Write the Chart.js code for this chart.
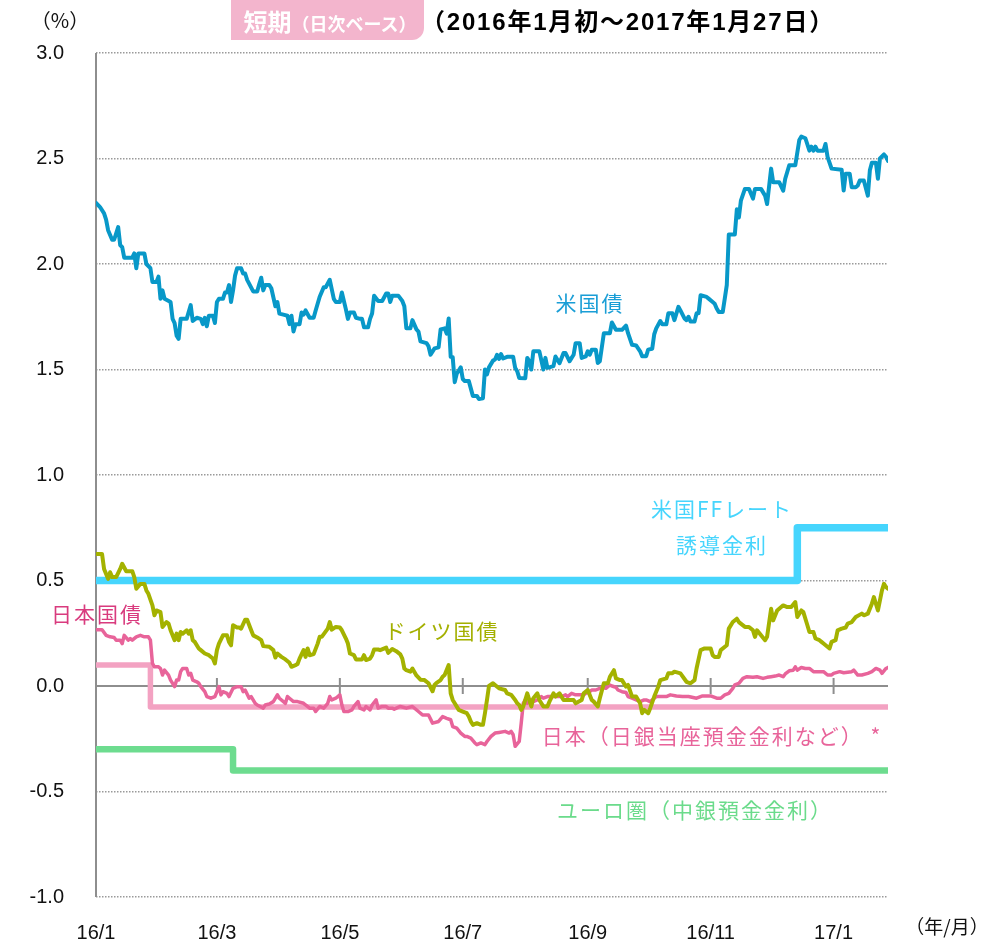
<!DOCTYPE html>
<html><head><meta charset="utf-8">
<script src="https://cdn.jsdelivr.net/npm/chart.js@4.4.0/dist/chart.umd.min.js"></script>
<style>
html,body{margin:0;padding:0;background:#fff;}
#wrap{position:relative;width:1002px;height:942px;overflow:hidden;background:#fff;}
#c{position:absolute;left:0;top:0;}
.t{position:absolute;white-space:nowrap;line-height:1;transform:translate(-50%,-50%);font-family:"Noto Sans CJK JP","Noto Sans",sans-serif;}
.lab{font-size:21px;letter-spacing:2px;}
#box{position:absolute;left:231px;top:0;width:193px;height:40px;background:#f3b5cd;border-radius:0 0 12px 0;}
</style></head>
<body>
<div id="wrap">
<canvas id="c" width="1002" height="942"></canvas>
<div id="box"></div>
<div class="t" style="left:330px;top:21px;color:#fff;font-weight:bold;font-size:24px;">短期<span style="font-size:18px;">（日次ベース）</span></div>
<div class="t" style="left:628px;top:22px;color:#000;font-weight:bold;font-size:24px;letter-spacing:1.8px;font-family:'Liberation Sans Narrow','Liberation Sans','Noto Sans CJK JP',sans-serif;">（2016年1月初～2017年1月27日）</div>
<div class="t" style="left:60px;top:20px;color:#111;font-size:20px;">（%）</div>
<div class="t lab" style="left:590px;top:302px;color:#1a9ed6;">米国債</div>
<div class="t lab" style="left:722px;top:508px;color:#46d5fd;">米国FFレート</div>
<div class="t lab" style="left:722px;top:544px;color:#46d5fd;">誘導金利</div>
<div class="t lab" style="left:97px;top:613px;color:#d93b7e;">日本国債</div>
<div class="t lab" style="left:442px;top:630px;color:#a4b000;">ドイツ国債</div>
<div class="t lab" style="left:712px;top:735px;color:#e8649a;">日本（日銀当座預金金利など） *</div>
<div class="t lab" style="left:695px;top:809px;color:#6bdb8b;">ユーロ圏（中銀預金金利）</div>
<div class="t" style="left:947px;top:925px;color:#111;font-size:19px;">（年/月）</div>
</div>
<script>
// x = days since 2016-01-01
const tickDays = [0, 60, 121, 182, 244, 305, 366];
const tickLabels = ['16/1', '16/3', '16/5', '16/7', '16/9', '16/11', '17/1'];

const usDays = [
 0,2,4,5,6,8,9,11,12,13,
 14,18,19,20,21,24,25,27,28,30,
 31,32,33,34,37,38,39,40,41,42,
 45,47,48,50,52,53,54,55,56,58,
 59,60,61,63,64,65,66,67,68,69,
 70,72,73,74,75,78,80,81,82,83,
 84,86,87,89,90,91,93,95,96,97,
 98,99,101,102,103,104,106,108,109,111,
 113,114,116,118,119,121,122,124,125,126,
 128,129,131,132,133,135,136,137,138,140,
 142,144,145,146,147,150,152,153,154,156,
 157,159,160,161,164,165,166,168,170,171,
 173,174,175,176,177,178,179,181,182,183,
 185,187,189,190,192,193,194,195,197,198,
 199,200,201,202,204,207,208,209,210,213,
 214,215,216,217,220,222,223,224,227,228,
 230,232,233,235,236,237,238,240,241,243,
 244,245,246,248,249,250,252,255,256,258,
 261,263,264,266,268,270,271,273,274,276,
 277,278,280,281,283,284,286,287,289,290,
 292,293,294,295,297,298,299,300,303,304,
 306,307,308,309,311,312,313,314,317,318,
 319,320,322,324,326,327,330,332,333,335,
 336,338,339,341,342,344,347,349,350,352,
 354,355,356,357,358,361,362,363,365,370,
 371,372,374,375,377,378,379,381,383,384,
 385,387,388,389,391,392,393];
const usYield = [
 2.29,2.27,2.24,2.21,2.16,2.115,2.115,2.175,2.09,2.08,
 2.03,2.03,2.05,1.98,2.05,2.05,2.0,1.98,1.915,1.915,
 1.94,1.835,1.875,1.835,1.82,1.74,1.72,1.66,1.645,1.74,
 1.74,1.805,1.73,1.745,1.74,1.715,1.745,1.705,1.755,1.755,
 1.72,1.82,1.835,1.835,1.865,1.865,1.9,1.82,1.875,1.945,
 1.98,1.98,1.955,1.955,1.925,1.87,1.87,1.905,1.935,1.875,
 1.9,1.9,1.885,1.8,1.82,1.765,1.76,1.755,1.715,1.755,
 1.68,1.715,1.715,1.77,1.76,1.78,1.745,1.745,1.78,1.845,
 1.89,1.89,1.925,1.835,1.82,1.82,1.865,1.785,1.74,1.77,
 1.77,1.745,1.74,1.74,1.7,1.7,1.74,1.765,1.85,1.825,
 1.825,1.86,1.86,1.82,1.85,1.85,1.825,1.8,1.695,1.695,
 1.734,1.69,1.68,1.633,1.625,1.61,1.57,1.6,1.605,1.69,
 1.695,1.67,1.742,1.56,1.558,1.44,1.48,1.51,1.455,1.445,
 1.445,1.375,1.375,1.36,1.364,1.5,1.477,1.51,1.542,1.547,
 1.57,1.55,1.573,1.552,1.56,1.56,1.508,1.492,1.46,1.458,
 1.555,1.539,1.5,1.586,1.586,1.5,1.555,1.508,1.516,1.562,
 1.53,1.578,1.578,1.539,1.555,1.57,1.625,1.625,1.555,1.562,
 1.586,1.57,1.594,1.594,1.531,1.539,1.672,1.672,1.723,1.688,
 1.688,1.708,1.672,1.617,1.614,1.586,1.563,1.563,1.594,1.598,
 1.667,1.695,1.73,1.714,1.714,1.766,1.766,1.734,1.797,1.78,
 1.742,1.734,1.75,1.727,1.727,1.766,1.766,1.852,1.844,1.836,
 1.82,1.812,1.789,1.773,1.773,1.836,1.9,2.14,2.14,2.26,
 2.22,2.3,2.356,2.356,2.31,2.356,2.356,2.324,2.284,2.452,
 2.388,2.388,2.388,2.348,2.404,2.468,2.468,2.588,2.604,2.596,
 2.537,2.556,2.537,2.556,2.537,2.537,2.569,2.508,2.452,2.447,
 2.348,2.428,2.428,2.364,2.364,2.372,2.396,2.396,2.324,2.444,
 2.48,2.48,2.404,2.5,2.519,2.508,2.489];

const deDays = [
 0,3,4,6,7,8,10,12,13,15,
 18,19,20,22,24,25,26,28,29,30,
 32,33,35,36,37,39,40,41,42,43,
 45,46,47,48,49,51,52,54,56,58,
 59,60,61,63,65,66,67,68,70,71,
 72,74,75,77,78,80,82,83,86,88,
 89,90,92,94,96,97,99,100,101,103,
 104,105,106,108,110,111,112,115,116,117,
 119,121,122,124,125,126,128,129,132,133,
 134,136,137,138,140,141,144,145,147,149,
 151,152,153,154,156,157,159,161,163,165,
 167,168,169,171,172,173,175,176,177,178,
 180,182,184,185,186,187,189,191,192,193,
 194,195,197,198,200,203,204,206,208,209,
 210,211,212,214,215,216,217,219,220,222,
 224,225,227,228,230,232,235,237,238,241,
 242,244,246,247,249,250,252,254,255,257,
 258,260,261,263,264,266,268,270,271,272,
 274,275,277,279,280,283,284,286,287,290,
 293,295,297,298,300,302,305,306,307,309,
 310,313,314,316,318,319,322,324,326,327,
 328,330,332,333,335,336,338,340,341,343,
 345,347,348,350,351,353,354,356,357,359,
 360,361,364,365,367,368,370,372,373,375,
 377,380,381,383,385,386,388,390,391,392,
 393];
const deYield = [
 0.626,0.626,0.555,0.508,0.539,0.516,0.516,0.555,0.579,0.544,
 0.544,0.516,0.461,0.484,0.484,0.453,0.437,0.382,0.335,0.358,
 0.35,0.28,0.303,0.296,0.264,0.217,0.248,0.217,0.256,0.248,
 0.264,0.248,0.264,0.217,0.209,0.178,0.17,0.154,0.146,0.13,
 0.107,0.17,0.201,0.24,0.24,0.209,0.193,0.288,0.277,0.277,
 0.272,0.314,0.314,0.264,0.24,0.23,0.217,0.189,0.186,0.17,
 0.135,0.154,0.138,0.126,0.11,0.091,0.099,0.104,0.13,0.17,
 0.138,0.178,0.146,0.151,0.201,0.233,0.233,0.272,0.303,0.267,
 0.28,0.277,0.264,0.225,0.201,0.154,0.146,0.126,0.126,0.146,
 0.123,0.13,0.146,0.173,0.173,0.17,0.182,0.157,0.175,0.165,
 0.15,0.13,0.083,0.075,0.068,0.083,0.05,0.03,0.028,0.013,
 -0.025,0.005,0.015,0.028,0.044,0.052,0.099,-0.035,-0.066,-0.082,
 -0.113,-0.121,-0.129,-0.145,-0.168,-0.184,-0.176,-0.184,-0.184,-0.129,
 -0.066,0.0,0.013,0.005,-0.011,-0.019,-0.035,-0.042,-0.066,-0.082,
 -0.09,-0.113,-0.097,-0.035,-0.066,-0.097,-0.058,-0.035,-0.066,-0.097,
 -0.097,-0.074,-0.035,-0.05,-0.035,-0.066,-0.066,-0.066,-0.082,-0.066,
 -0.035,-0.019,-0.066,-0.074,-0.097,-0.058,0.013,0.013,0.044,0.075,
 0.036,0.028,0.028,-0.003,0.005,-0.05,-0.05,-0.082,-0.129,-0.113,
 -0.129,-0.105,-0.05,-0.003,0.028,0.036,0.06,0.06,0.068,0.06,
 0.02,0.013,0.028,0.083,0.17,0.178,0.178,0.146,0.138,0.138,
 0.17,0.193,0.272,0.303,0.319,0.303,0.28,0.28,0.264,0.233,
 0.264,0.24,0.217,0.233,0.366,0.311,0.358,0.374,0.382,0.374,
 0.374,0.398,0.327,0.358,0.35,0.288,0.256,0.256,0.225,0.217,
 0.209,0.201,0.178,0.209,0.217,0.264,0.272,0.277,0.296,0.303,
 0.327,0.343,0.335,0.343,0.39,0.421,0.358,0.453,0.484,0.469,
 0.461];

const jpDays = [
 0,3,5,7,9,10,12,13,14,16,
 17,18,20,22,24,26,27,28,29,31,
 32,33,34,36,37,39,40,41,42,43,
 45,46,47,48,50,51,52,54,55,57,
 59,60,61,62,63,65,66,68,70,72,
 73,74,76,77,79,80,83,84,86,88,
 90,91,94,95,96,98,100,103,104,106,
 108,109,111,113,115,116,117,119,121,122,
 123,125,127,128,130,131,133,134,136,137,
 139,140,142,144,145,147,148,151,154,157,
 160,162,165,167,170,172,174,176,177,179,
 181,183,184,186,188,189,191,193,194,196,
 198,200,203,205,206,207,208,210,211,212,
 213,214,216,217,219,221,222,224,226,228,
 231,233,234,236,238,240,242,243,245,246,
 248,250,251,253,255,256,258,259,261,263,
 264,266,268,270,272,273,275,277,278,280,
 283,285,288,291,294,298,301,305,308,310,
 312,314,316,317,319,321,323,326,328,331,
 333,335,337,339,341,342,344,346,347,348,
 350,352,354,356,358,361,363,365,366,369,
 371,375,376,378,380,383,385,387,389,390,
 392,393];
const jpYield = [
 0.267,0.267,0.24,0.233,0.23,0.217,0.217,0.201,0.24,0.217,
 0.225,0.217,0.233,0.24,0.233,0.233,0.217,0.107,0.091,0.091,
 0.083,0.052,0.075,0.052,0.028,-0.003,0.028,0.028,0.068,0.083,
 0.083,0.052,0.06,0.028,0.02,0.013,-0.003,-0.027,-0.05,-0.058,
 -0.05,-0.027,-0.003,-0.042,-0.027,-0.035,-0.05,-0.011,-0.003,-0.003,
 -0.027,-0.019,-0.058,-0.05,-0.082,-0.09,-0.105,-0.09,-0.085,-0.074,
 -0.042,-0.058,-0.082,-0.05,-0.058,-0.074,-0.074,-0.082,-0.09,-0.105,
 -0.105,-0.121,-0.097,-0.105,-0.082,-0.05,-0.066,-0.058,-0.042,-0.09,
 -0.121,-0.121,-0.113,-0.097,-0.074,-0.105,-0.113,-0.097,-0.113,-0.09,
 -0.066,-0.105,-0.097,-0.097,-0.105,-0.105,-0.11,-0.097,-0.105,-0.097,
 -0.121,-0.137,-0.137,-0.176,-0.168,-0.145,-0.153,-0.16,-0.192,-0.2,
 -0.223,-0.239,-0.239,-0.247,-0.27,-0.278,-0.27,-0.278,-0.263,-0.239,
 -0.223,-0.22,-0.215,-0.223,-0.215,-0.231,-0.286,-0.263,-0.176,-0.082,
 -0.066,-0.082,-0.066,-0.074,-0.066,-0.05,-0.058,-0.05,-0.05,-0.05,
 -0.05,-0.042,-0.05,-0.035,-0.042,-0.042,-0.042,-0.035,-0.027,-0.019,
 -0.019,-0.011,-0.006,-0.011,0.005,0.0,-0.006,-0.019,-0.027,-0.031,
 -0.05,-0.058,-0.066,-0.074,-0.066,-0.066,-0.074,-0.058,-0.05,-0.05,
 -0.05,-0.042,-0.047,-0.05,-0.05,-0.058,-0.047,-0.047,-0.058,-0.058,
 -0.042,-0.035,-0.011,0.005,0.013,0.036,0.044,0.041,0.044,0.036,
 0.041,0.044,0.047,0.052,0.044,0.057,0.072,0.075,0.091,0.075,
 0.088,0.083,0.083,0.068,0.068,0.068,0.052,0.052,0.06,0.068,
 0.063,0.068,0.075,0.052,0.052,0.06,0.068,0.083,0.075,0.06,
 0.083,0.088];

// policy rates (stepped: value changes at the listed day)
const ffDays = [0, 348, 393];
const ffRate = [0.5, 0.75, 0.75];
const bojDays = [0, 27, 393];
const bojRate = [0.1, -0.1, -0.1];
const ecbDays = [0, 68, 393];
const ecbRate = [-0.3, -0.4, -0.4];

const pts = (xs, ys) => xs.map((x, i) => ({x: x, y: ys[i]}));

const axisPlugin = {
  id: 'axisPlugin',
  beforeDatasetsDraw(chart) {
    const {ctx, chartArea: a, scales: {x, y}} = chart;
    ctx.save();
    ctx.strokeStyle = '#8e8e8e';
    ctx.lineWidth = 2;
    ctx.setLineDash([]);
    ctx.beginPath();
    ctx.moveTo(a.left, a.top);
    ctx.lineTo(a.left, a.bottom);
    ctx.stroke();
    const y0 = y.getPixelForValue(0);
    ctx.beginPath();
    ctx.moveTo(a.left, y0);
    ctx.lineTo(a.right, y0);
    ctx.stroke();
    tickDays.forEach(d => {
      const px = x.getPixelForValue(d);
      ctx.beginPath();
      ctx.moveTo(px, y0 - 8);
      ctx.lineTo(px, y0 + 8);
      ctx.stroke();
    });
    ctx.restore();
  }
};

const tickFont = {family: "'Liberation Sans Narrow','Liberation Sans',Arial,sans-serif", size: 20};

new Chart(document.getElementById('c'), {
  type: 'line',
  data: {
    datasets: [
      {data: pts(usDays, usYield), borderColor: '#0898c8', borderWidth: 4},
      {data: pts(deDays, deYield), borderColor: '#a4b200', borderWidth: 4},
      {data: pts(jpDays, jpYield), borderColor: '#e8649a', borderWidth: 3.5},
      {data: pts(ffDays, ffRate), borderColor: '#46d5fd', borderWidth: 7.5, stepped: 'before'},
      {data: pts(bojDays, bojRate), borderColor: '#f3a2c2', borderWidth: 5.5, stepped: 'before'},
      {data: pts(ecbDays, ecbRate), borderColor: '#6ddc8f', borderWidth: 6.5, stepped: 'before'}
    ]
  },
  options: {
    responsive: false,
    animation: false,
    devicePixelRatio: 1,
    layout: {padding: {top: 53, right: 114, left: 0, bottom: 0}},
    plugins: {legend: {display: false}, tooltip: {enabled: false}},
    elements: {
      point: {radius: 0},
      line: {tension: 0, borderJoinStyle: 'round', borderCapStyle: 'round', fill: false}
    },
    scales: {
      x: {
        type: 'linear', min: 0, max: 393,
        afterBuildTicks: s => { s.ticks = tickDays.map(v => ({value: v})); },
        afterFit: s => { s.height = 45; },
        grid: {display: false},
        border: {display: false},
        ticks: {autoSkip: false, maxRotation: 0, padding: 16, font: tickFont, color: '#111',
                callback: (v, i) => tickLabels[i]}
      },
      y: {
        min: -1, max: 3,
        afterFit: s => { s.width = 96; },
        grid: {color: '#9a9a9a', lineWidth: 1.5, drawTicks: false},
        border: {display: false, dash: [1.5, 1.5]},
        ticks: {stepSize: 0.5, padding: 32, font: tickFont, color: '#111',
                callback: v => Number(v).toFixed(1)}
      }
    }
  },
  plugins: [axisPlugin]
});
</script>
</body></html>
